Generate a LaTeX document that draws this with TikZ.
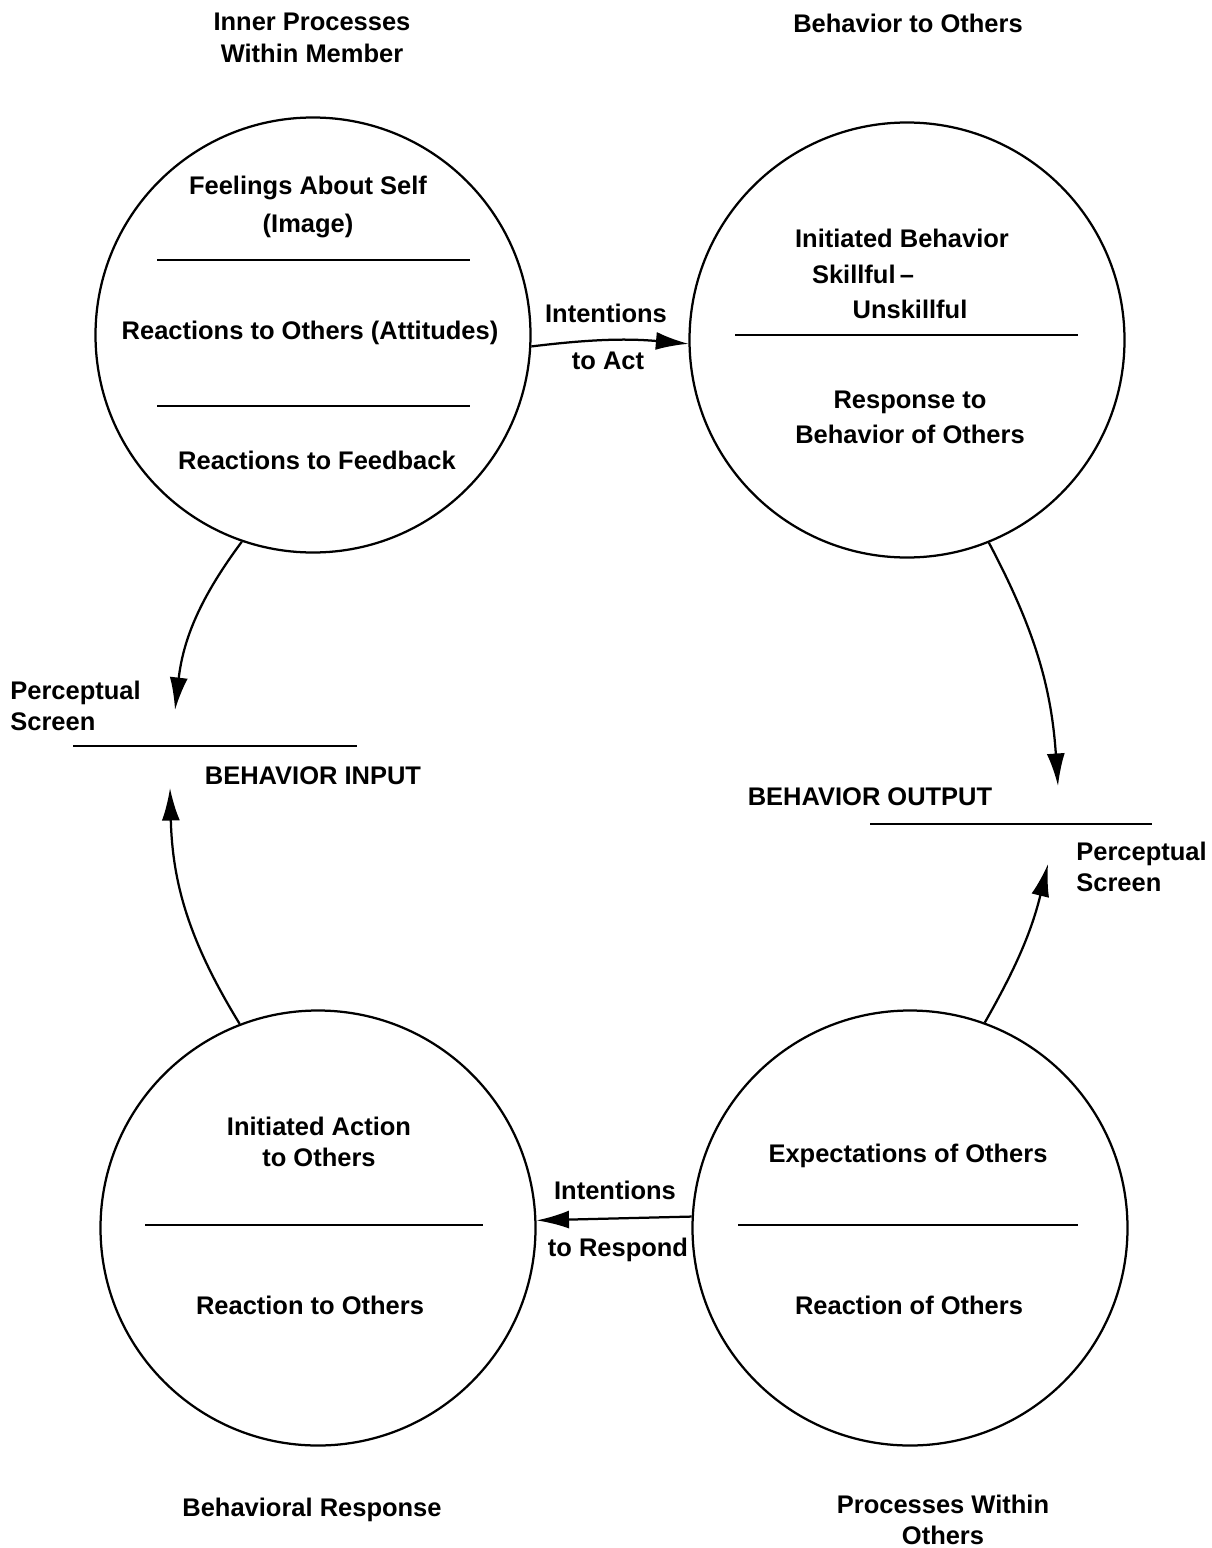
\documentclass[tikz,border=0pt]{standalone}
\usepackage{fontspec}
\setmainfont{Liberation Sans}
\usetikzlibrary{arrows.meta, shapes, positioning}

\begin{document}
\begin{tikzpicture}[x=0.2mm, y=-0.2mm,
    circ/.style={circle, draw, line width=0.45mm, minimum size=8.7cm, inner sep=0pt},
    txt/.style={font=\bfseries\fontsize{14.5}{18}\selectfont, align=center, inner sep=0pt},
    sep/.style={line width=0.45mm},
    arr/.style={line width=0.45mm, -{Latex[length=6.5mm, width=3.6mm]}}]
    \useasboundingbox (0,0) rectangle (1211,1548);

    \node[circ] (tl) at (313,335) {};
    \node[circ] (tr) at (907,340) {};
    \node[circ] (bl) at (318,1228) {};
    \node[circ] (br) at (910,1228) {};

    % titles
    \node[txt] (t1) at (312,38) {Inner Processes\\Within Member};
    \node[txt] (t2) at (908,23) {Behavior to Others};
    \node[txt] (t3) at (312,1510) {Behavioral Response};
    \node[txt] (t4) at (943,1520) {Processes Within\\Others};

    % inside the circles
    \node[txt] (f1) at (308,207) {Feelings About Self\\[4pt](Image)};
    \node[txt] (f2) at (310,333) {Reactions to Others (Attitudes)};
    \node[txt] (f3) at (317,460) {Reactions to Feedback};
    \draw[sep] (157,260) -- (470,260);
    \draw[sep] (157,406) -- (470,406);

    \node[txt] (b1) at (902,238) {Initiated Behavior};
    \node[txt] (b2) at (863,274) {Skillful\,--};
    \node[txt] (b3) at (910,309) {Unskillful};
    \node[txt] (b4) at (910,417) {Response to\\[2pt]Behavior of Others};
    \draw[sep] (735,335) -- (1078,335);

    \node[txt] (r1) at (319,1142) {Initiated Action\\to Others};
    \node[txt] (r2) at (310,1305) {Reaction to Others};
    \draw[sep] (145,1225) -- (483,1225);

    \node[txt] (o1) at (908,1156) {Expectations of Others};
    \node[txt] (o2) at (909,1305) {Reaction of Others};
    \draw[sep] (738,1225) -- (1078,1225);

    % screens
    \node[txt, align=left, anchor=west] (p1) at (10,706) {Perceptual\\Screen};
    \draw[sep] (73,746) -- (357,746);
    \node[txt] (in) at (313,776) {BEHAVIOR INPUT};
    \node[txt] (out) at (870,797) {BEHAVIOR OUTPUT};
    \draw[sep] (870,824) -- (1152,824);
    \node[txt, align=left, anchor=west] (p2) at (1076,867) {Perceptual\\Screen};

    \coordinate (inA) at (175,710);
    \coordinate (inB) at (170,788);
    \coordinate (outA) at (1058,786);
    \coordinate (outB) at (1048,864);

    \draw[arr] (tl.-3) to[bend left=6] (tr.181);
    \draw[arr] (br.177) -- (bl.2);
    \draw[arr] (tl.251) to[bend right=15] (inA);
    \draw[arr] (bl.111) to[bend left=15] (inB);
    \draw[arr] (tr.-68) to[bend left=12] (outA);
    \draw[arr] (br.70) to[bend right=8] (outB);

    \node[txt] (ia1) at (606,313) {Intentions};
    \node[txt] (ia2) at (608,361) {to Act};
    \node[txt] (ir1) at (615,1190) {Intentions};
    \node[txt] (ir2) at (618,1250) {to Respond};
\end{tikzpicture}
\end{document}
